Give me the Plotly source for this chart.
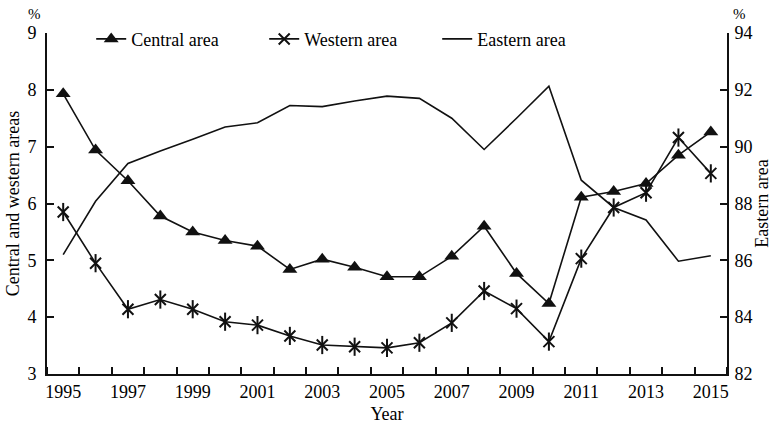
import plotly.graph_objects as go

years = list(range(1995, 2016))
central = [7.93, 6.94, 6.40, 5.78, 5.50, 5.35, 5.25, 4.84, 5.02, 4.88, 4.71,
           4.71, 5.07, 5.60, 4.77, 4.24, 6.11, 6.21, 6.35, 6.85, 7.26]
western = [5.85, 4.95, 4.14, 4.31, 4.14, 3.92, 3.86, 3.67, 3.51, 3.48, 3.46,
           3.55, 3.90, 4.46, 4.15, 3.57, 5.03, 5.93, 6.19, 7.16, 6.53]
eastern = [86.2, 88.08, 89.41, 89.85, 90.26, 90.69, 90.84, 91.45, 91.41, 91.61, 91.78,
           91.70, 91.0, 89.90, 91.0, 92.13, 88.82, 87.86, 87.42, 85.97, 86.16]
xtick_labels = [str(y) for y in range(1995, 2016, 2)]

FONT = "Liberation Serif, Times New Roman, serif"
LC = "#111111"

fig = go.Figure()
fig.add_trace(go.Scatter(
    x=years, y=central, name="Central area", mode="lines+markers",
    line=dict(color=LC, width=1.6),
    marker=dict(symbol="triangle-up", size=13, color=LC),
))
fig.add_trace(go.Scatter(
    x=years, y=western, name="Western area", mode="lines+markers",
    line=dict(color=LC, width=1.6),
    marker=dict(symbol="x-thin-open", size=11, color=LC, line=dict(width=2, color=LC)),
))
fig.add_trace(go.Scatter(
    x=years, y=western, name="Western area", mode="markers", showlegend=False,
    marker=dict(symbol="line-ns-open", size=13, color=LC, line=dict(width=2, color=LC)),
    hoverinfo="skip",
))
fig.add_trace(go.Scatter(
    x=years, y=eastern, name="Eastern area", mode="lines", yaxis="y2",
    line=dict(color=LC, width=1.6),
))

fig.update_layout(
    width=772, height=429,
    margin=dict(l=47, r=45, t=33, b=55, autoexpand=False),
    paper_bgcolor="white", plot_bgcolor="white",
    font=dict(family=FONT, size=18, color="black"),
    showlegend=True,
    legend=dict(orientation="h", x=0.065, y=1.036, xanchor="left", yanchor="top",
                bgcolor="rgba(0,0,0,0)", font=dict(size=18, family=FONT),
                itemwidth=30, entrywidth=128, tracegroupgap=0),
    xaxis=dict(
        range=[1994.5, 2015.5], tickmode="array",
        tickvals=list(range(1995, 2016, 2)), ticktext=xtick_labels,
        ticks="", showgrid=False, zeroline=False, automargin=False,
        showline=True, linecolor=LC, linewidth=2,
        title=dict(text="Year", standoff=7, font=dict(size=18)),
        minor=dict(ticks="inside", tickmode="linear", tick0=1995.5, dtick=1,
                   ticklen=7, tickwidth=1.5, tickcolor=LC, showgrid=False),
    ),
    yaxis=dict(
        range=[3, 9], dtick=1, ticks="inside", ticklen=7, tickwidth=1.5, tickcolor=LC,
        showgrid=False, zeroline=False, showline=True, linecolor=LC, linewidth=2,
        automargin=False, ticklabelstandoff=5,
        title=dict(text="Central and western areas", standoff=3, font=dict(size=18)),
    ),
    yaxis2=dict(
        range=[82, 94], dtick=2, overlaying="y", side="right",
        ticks="inside", ticklen=7, tickwidth=1.5, tickcolor=LC,
        showgrid=False, zeroline=False, showline=True, linecolor=LC, linewidth=2,
        automargin=False, ticklabelstandoff=2,
        title=dict(text="Eastern area", standoff=7, font=dict(size=18)),
    ),
    annotations=[
        dict(text="%", xref="paper", yref="paper", x=-0.018, y=1.0, yshift=19,
             xanchor="center", yanchor="middle",
             showarrow=False, font=dict(size=15, family=FONT)),
        dict(text="%", xref="paper", yref="paper", x=1.019, y=1.0, yshift=19,
             xanchor="center", yanchor="middle",
             showarrow=False, font=dict(size=15, family=FONT)),
    ],
)

fig.write_html("out.html",
               config={"displayModeBar": False},
               post_script="document.body.style.margin='0px';document.body.style.padding='0px';")
